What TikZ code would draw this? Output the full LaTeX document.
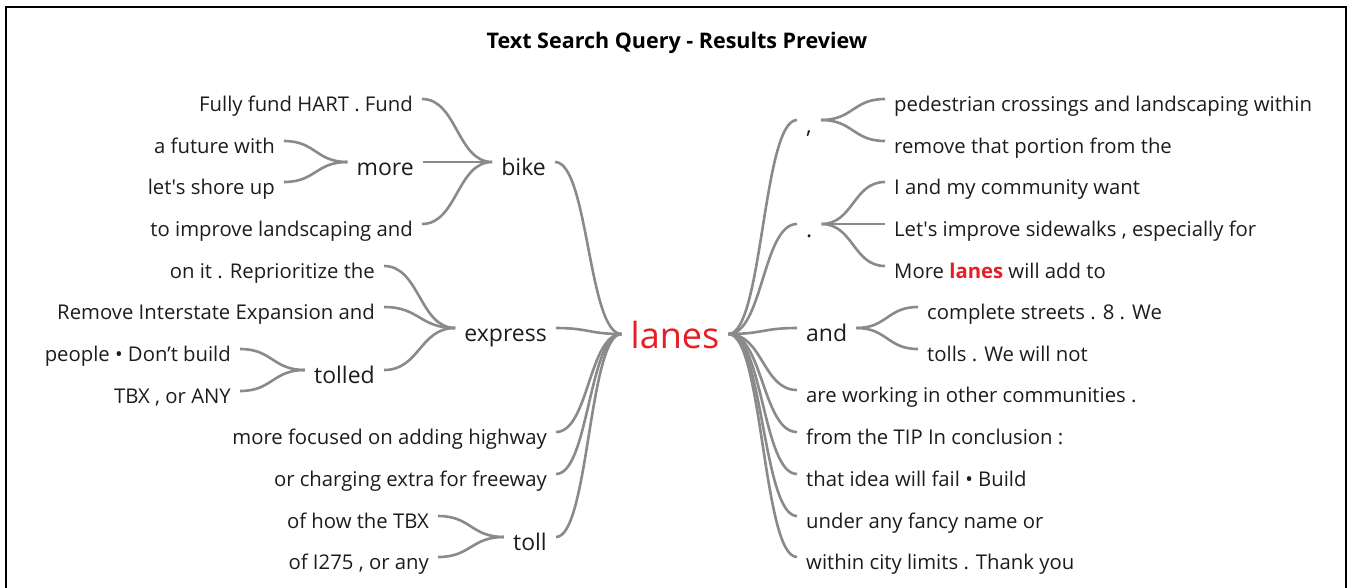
\documentclass[tikz,border=0pt]{standalone}
\usepackage{fontspec}
\setmainfont{Open Sans}
\usepackage{tikz}
\usetikzlibrary{calc}
\definecolor{linkgray}{RGB}{138,138,138}
\definecolor{hitred}{RGB}{230,30,38}
\definecolor{inkgray}{RGB}{28,28,28}
\newcommand{\branchto}[2]{\draw[link] let \p1=(#1.east), \p2=(#2.west) in (\p1) .. controls ({(\x1+\x2)/2},\y1) and ({(\x1+\x2)/2},\y2) .. (\p2);}

\begin{document}
\begin{tikzpicture}[x=1pt,y=-1pt]
\tikzstyle{leaf}=[inner xsep=9pt,inner ysep=0pt,text height=24pt,text depth=0pt,text=inkgray,font=\fontsize{20.3}{22}\selectfont]
\tikzstyle{word}=[inner xsep=9pt,inner ysep=0pt,text height=26pt,text depth=0pt,text=inkgray,font=\fontsize{23}{25}\selectfont]
\tikzstyle{root}=[inner xsep=9pt,inner ysep=0pt,text height=29pt,text depth=0pt,text=hitred,font=\fontsize{36}{38}\selectfont]
\tikzstyle{link}=[draw=linkgray,line width=2.6pt]
\useasboundingbox (0,0) rectangle (1350,587);
\draw[line width=2pt] (6,600) -- (6,7) -- (1346,7) -- (1346,600);
\node[anchor=base,font=\fontsize{21.5}{23}\selectfont\bfseries] (head) at (677,48) {Text Search Query - Results Preview};

\node[root] (lanes) at (675,334) {lanes};

\node[leaf,anchor=east] (fund) at (422,99) {Fully fund HART . Fund};
\node[leaf,anchor=east] (future) at (284,141) {a future with};
\node[leaf,anchor=east] (shore) at (284,182) {let\textquotesingle s shore up};
\node[leaf,anchor=east] (improve) at (422,224) {to improve landscaping and};
\node[word,anchor=east] (more) at (423,162) {more};
\node[word,anchor=east] (bike) at (555,162) {bike};
\node[leaf,anchor=east] (reprio) at (384,266) {on it . Reprioritize the};
\node[leaf,anchor=east] (remove) at (384,307) {Remove Interstate Expansion and};
\node[leaf,anchor=east] (people) at (240,349) {people • Don’t build};
\node[leaf,anchor=east] (tbxany) at (240,391) {TBX , or ANY};
\node[word,anchor=east] (tolled) at (384,370) {tolled};
\node[word,anchor=east] (express) at (556,328) {express};
\node[leaf,anchor=east] (focused) at (556,432) {more focused on adding highway};
\node[leaf,anchor=east] (charging) at (556,474) {or charging extra for freeway};
\node[leaf,anchor=east] (howtbx) at (438,516) {of how the TBX};
\node[leaf,anchor=east] (ofi) at (438,557) {of I275 , or any};
\node[word,anchor=east] (toll) at (556,537) {toll};

\node[word,anchor=west] (comma) at (797,120) {,};
\node[leaf,anchor=west] (pedestrian) at (885,99) {pedestrian crossings and landscaping within};
\node[leaf,anchor=west] (portion) at (885,141) {remove that portion from the};
\node[word,anchor=west] (period) at (797,224) {.};
\node[leaf,anchor=west] (community) at (885,182) {I and my community want};
\node[leaf,anchor=west] (sidewalks) at (885,224) {Let\textquotesingle s improve sidewalks , especially for};
\node[leaf,anchor=west] (addto) at (885,266) {More {\bfseries\color{hitred}lanes} will add to};
\node[word,anchor=west] (and) at (797,328) {and};
\node[leaf,anchor=west] (streets) at (918,307) {complete streets . 8 . We};
\node[leaf,anchor=west] (tolls) at (918,349) {tolls . We will not};
\node[leaf,anchor=west] (working) at (797,390) {are working in other communities .};
\node[leaf,anchor=west] (tip) at (797,432) {from the TIP In conclusion :};
\node[leaf,anchor=west] (fail) at (797,474) {that idea will fail • Build};
\node[leaf,anchor=west] (fancy) at (797,516) {under any fancy name or};
\node[leaf,anchor=west] (limits) at (797,557) {within city limits . Thank you};

\branchto{fund}{bike}
\branchto{future}{more}
\branchto{shore}{more}
\branchto{more}{bike}
\branchto{improve}{bike}
\branchto{bike}{lanes}
\branchto{reprio}{express}
\branchto{remove}{express}
\branchto{people}{tolled}
\branchto{tbxany}{tolled}
\branchto{tolled}{express}
\branchto{express}{lanes}
\branchto{focused}{lanes}
\branchto{charging}{lanes}
\branchto{howtbx}{toll}
\branchto{ofi}{toll}
\branchto{toll}{lanes}

\branchto{lanes}{comma}
\branchto{comma}{pedestrian}
\branchto{comma}{portion}
\branchto{lanes}{period}
\branchto{period}{community}
\branchto{period}{sidewalks}
\branchto{period}{addto}
\branchto{lanes}{and}
\branchto{and}{streets}
\branchto{and}{tolls}
\branchto{lanes}{working}
\branchto{lanes}{tip}
\branchto{lanes}{fail}
\branchto{lanes}{fancy}
\branchto{lanes}{limits}
\end{tikzpicture}
\end{document}
